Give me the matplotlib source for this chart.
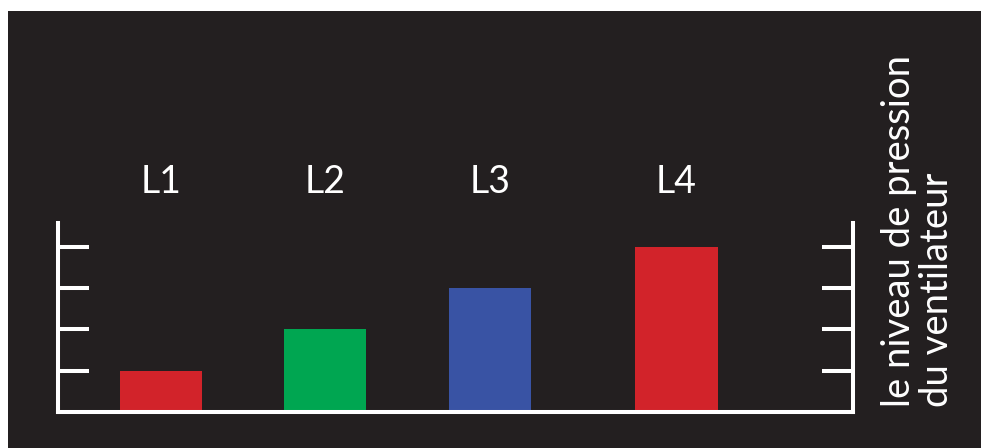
import matplotlib
matplotlib.use("Agg")
import matplotlib.pyplot as plt
from matplotlib.patches import Rectangle

# données
labels = ["L1", "L2", "L3", "L4"]
values = [1, 2, 3, 4]
colors = ["#d2232a", "#00a651", "#3953a4", "#d2232a"]
axis_title = ["le niveau de pression", "du ventilateur"]

FOND = "#231f20"
BLANC = "#ffffff"
W, H = 981, 448
POLICE = ["Lato", "DejaVu Sans"]

fig = plt.figure(figsize=(W / 100, H / 100), dpi=100)
fig.patch.set_facecolor(BLANC)
fig.patches.append(Rectangle((8 / W, 0), 1 - 8 / W, (H - 11) / H,
                             transform=fig.transFigure, facecolor=FOND,
                             edgecolor="none", zorder=-1))

# axes en pixels: gauche 57.5, droite 853, bas 412, haut 223
x0, x1, yb, yt = 57.5, 853, 412, 223
ax = fig.add_axes([x0 / W, (H - yb) / H, (x1 - x0) / W, (yb - yt) / H])
ax.set_facecolor("none")
ax.set_xlim(0, 4.82)
ax.set_ylim(0, 4.58)

xpos = [0.627, 1.62, 2.62, 3.75]
ax.bar(xpos, values, width=0.5, color=colors, zorder=1)

for s in ["left", "right", "bottom"]:
    ax.spines[s].set_color(BLANC)
    ax.spines[s].set_linewidth(2.9)
    ax.spines[s].set_zorder(3)
ax.spines["top"].set_visible(False)

ax.set_yticks([1, 2, 3, 4])
ax.set_xticks([])
ax.tick_params(axis="y", which="both", direction="in", length=22.5, width=2.9,
               color=BLANC, left=True, right=True, labelleft=False, labelright=False)

# étiquettes des barres
for xp, lab in zip(xpos, labels):
    xf = ax.transData.transform((xp, 0))[0] / W
    fig.text(xf, (H - 182) / H, lab, ha="center", va="center", color=BLANC,
             fontsize=27, family=POLICE)

# titre vertical à droite
for xb, ligne in zip([910, 948], axis_title):
    fig.text(xb / W, (H - 407) / H, ligne, rotation=90, rotation_mode="anchor",
             ha="left", va="baseline", color=BLANC, fontsize=27.5, family=POLICE)

fig.savefig("out.png", dpi=100, facecolor=BLANC)
